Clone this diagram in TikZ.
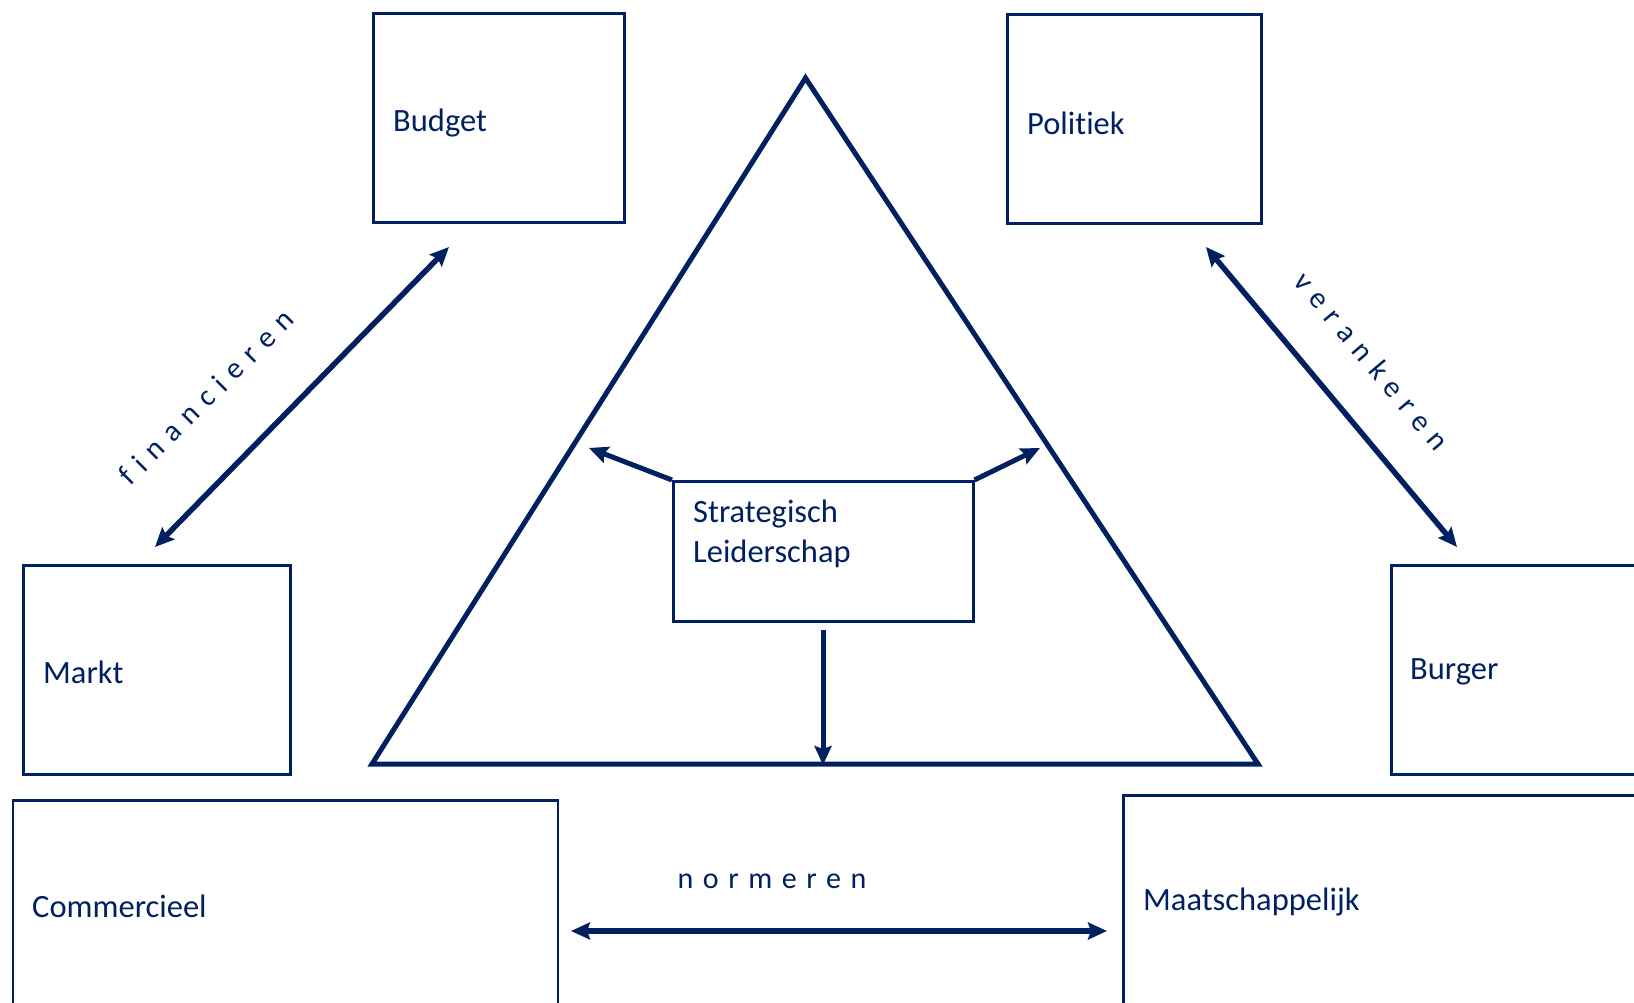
\documentclass[tikz,border=0pt]{standalone}
\usepackage{fontspec}
\setmainfont[Ligatures=NoCommon]{Carlito}
\usetikzlibrary{arrows.meta}
\definecolor{navy}{HTML}{002060}
\begin{document}
\begin{tikzpicture}[x=1pt,y=-1pt,
  box/.style={draw=navy, line width=2.5pt, rectangle, inner sep=0pt, anchor=north west},
  lbl/.style={anchor=west, text=navy, font=\fontsize{32.5}{39}\selectfont, inner sep=0pt},
  verb/.style={text=navy, font=\fontsize{30}{36}\selectfont\addfontfeature{LetterSpace=32}, inner sep=0pt},
  link/.style={draw=navy, line width=5.5pt, {Stealth[length=19pt,width=17pt,inset=3pt]}-{Stealth[length=19pt,width=17pt,inset=3pt]}},
  push/.style={draw=navy, line width=5pt, -{Stealth[length=19pt,width=17pt,inset=3pt]}},
]
\useasboundingbox (0,0) rectangle (1634,1003);
\clip (0,0) rectangle (1634,1003);

% outer boxes
\node[box, minimum width=251pt, minimum height=209pt] (budget) at (372,12.5) {};
\node[box, minimum width=254pt, minimum height=209pt] (politiek) at (1006,13.5) {};
\node[box, minimum width=267pt, minimum height=209pt] (markt) at (22,564) {};
\node[box, minimum width=260pt, minimum height=209pt] (burger) at (1390,564) {};
\node[box, minimum width=545pt, minimum height=230pt] (commercieel) at (11.5,799) {};
\node[box, minimum width=530pt, minimum height=230pt] (maatsch) at (1122,794) {};

\node[lbl] (budgetlbl) at (393,123) {Budget};
\node[lbl] (politieklbl) at (1027,123) {Politiek};
\node[lbl] (marktlbl) at (43,672) {Markt};
\node[lbl] (burgerlbl) at (1410,672) {Burger};
\node[lbl] (commlbl) at (32,906) {Commercieel};
\node[lbl] (maatlbl) at (1143,902) {Maatschappelijk};

% central triangle
\coordinate (apex) at (805.5,78);
\coordinate (baseL) at (372,764);
\coordinate (baseR) at (1258,764);
\draw[navy, line width=5pt, line join=miter] (apex) -- (baseL) -- (baseR) -- cycle;

% leadership box
\node[box, minimum width=300pt, minimum height=140pt, fill=white] (lead) at (672,480) {};
\node[anchor=north west, text=navy, font=\fontsize{32.5}{39.5}\selectfont, align=left, inner sep=0pt] (leadlbl) at (693,500) {Strategisch\\Leiderschap};

\coordinate (tipL) at (589,448);
\coordinate (tipR) at (1040,448);
\coordinate (downS) at (823,630);
\coordinate (downE) at (823,765);
\draw[push] (lead.north west) -- (tipL);
\draw[push] (lead.north east) -- (tipR);
\draw[push] (downS) -- (downE);

% relations between the outer boxes
\coordinate (finA) at (449,247);
\coordinate (finB) at (155,547);
\coordinate (verA) at (1206,247);
\coordinate (verB) at (1457,547);
\coordinate (norA) at (571,931);
\coordinate (norB) at (1107,931);
\draw[link] (finB) -- (finA);
\draw[link] (verA) -- (verB);
\draw[link] (norA) -- (norB);

\node[verb, rotate=45] (finlbl) at (206,397) {financieren};
\node[verb, rotate=-50] (verlbl) at (1372,361) {verankeren};
\node[verb] (norlbl) at (772,881) {normeren};
\end{tikzpicture}
\end{document}
